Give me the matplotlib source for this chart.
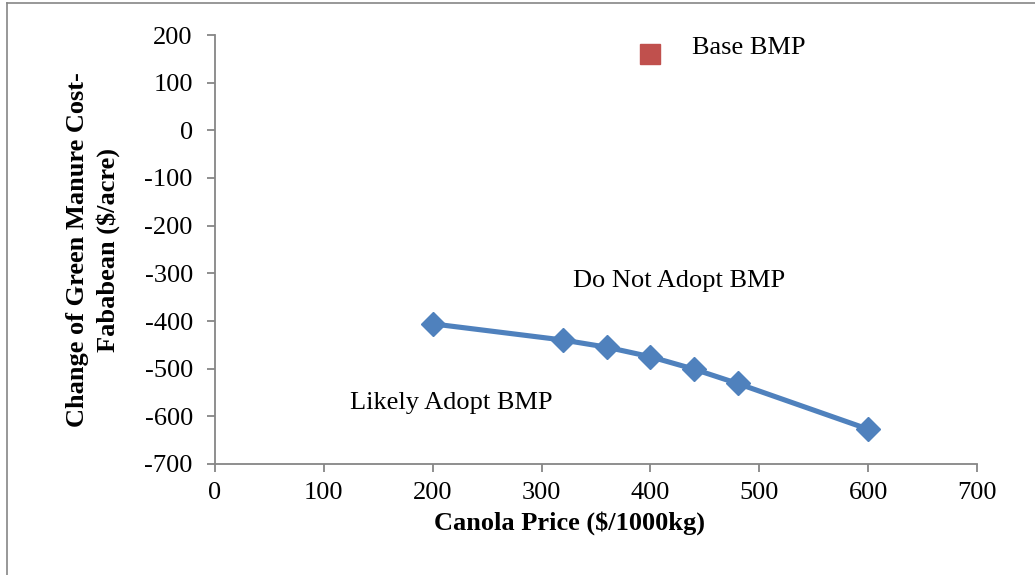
import matplotlib
matplotlib.use("Agg")
import matplotlib.pyplot as plt
from matplotlib.lines import Line2D

# Canola price scenarios and resulting change of green manure cost
canola_price = [200, 320, 360, 400, 440, 480, 600]
cost_change = [-406, -440, -455, -475, -501, -531, -627]

# Base scenario
base_price = [400]
base_change = [160]

x_ticks = [0, 100, 200, 300, 400, 500, 600, 700]
y_ticks = [200, 100, 0, -100, -200, -300, -400, -500, -600, -700]

plt.rcParams['font.family'] = ['Liberation Serif', 'DejaVu Serif']

W, H = 1035, 575
fig = plt.figure(figsize=(W / 100, H / 100), dpi=100)
ax = fig.add_axes([215 / W, (H - 464) / H, (977 - 215) / W, (464 - 35) / H])

blue = '#4F81BD'
red = '#C0504D'
axis_gray = '#868686'
fs = 19

ax.plot(canola_price, cost_change, color=blue, linewidth=3.7, marker='D',
        markersize=12, markerfacecolor=blue, markeredgecolor=blue, zorder=3)
ax.plot(base_price, base_change, linestyle='none', marker='s', markersize=14,
        markerfacecolor=red, markeredgecolor=red, zorder=3)

ax.set_xlim(0, 700)
ax.set_ylim(-700, 200)
ax.set_xticks(x_ticks)
ax.set_yticks(y_ticks)
ax.set_xticklabels([str(v) for v in x_ticks])
ax.set_yticklabels([str(v) for v in y_ticks])

for side in ('top', 'right'):
    ax.spines[side].set_visible(False)
for side in ('left', 'bottom'):
    ax.spines[side].set_color(axis_gray)
    ax.spines[side].set_linewidth(1.3)

ax.tick_params(axis='both', direction='out', length=6, width=1.3,
               color=axis_gray, labelsize=fs, labelcolor='black')
ax.tick_params(axis='x', pad=7)
ax.tick_params(axis='y', pad=10)

ax.set_xlabel('Canola Price ($/1000kg)', fontsize=fs, fontweight='bold')
ax.xaxis.label.set_verticalalignment('baseline')
ax.xaxis.set_label_coords((569.5 - 215) / 762, (464 - 530) / 429)

ax.set_ylabel('Change of Green Manure Cost-\nFababean ($/acre)', fontsize=fs,
              fontweight='bold', linespacing=1.35)
ax.yaxis.label.set_verticalalignment('center')
ax.yaxis.set_label_coords((93 - 215) / 762, 0.5)

ax.text(438, 172, 'Base BMP', fontsize=fs, ha='left', va='center')
ax.text(329, -316, 'Do Not Adopt BMP', fontsize=fs, ha='left', va='center')
ax.text(124, -572, 'Likely Adopt BMP', fontsize=fs, ha='left', va='center')

# Frame around the chart area
fig.add_artist(Line2D([7 / W, 7 / W], [0, 1 - 3 / H], transform=fig.transFigure,
                      color=axis_gray, linewidth=1.2))
fig.add_artist(Line2D([7 / W, 1], [1 - 3 / H, 1 - 3 / H], transform=fig.transFigure,
                      color=axis_gray, linewidth=1.2))

fig.savefig('out.png', dpi=100)
